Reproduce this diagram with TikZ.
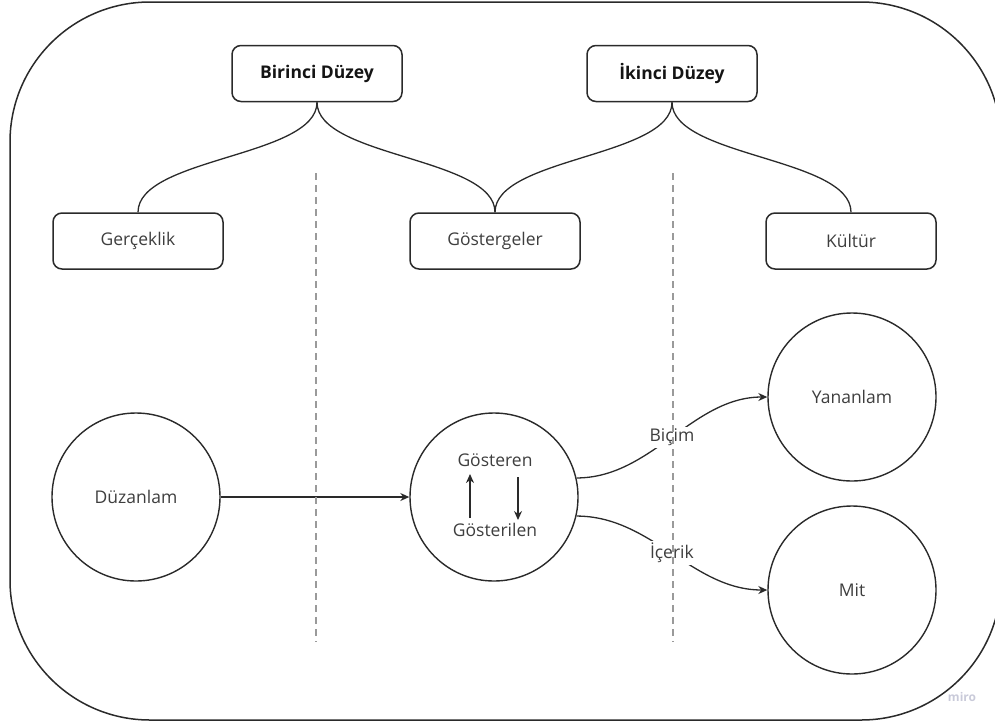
\documentclass[tikz,border=0pt]{standalone}
\usepackage{fontspec}
\setmainfont{Open Sans}
\usetikzlibrary{arrows.meta}
\definecolor{txt}{HTML}{3E3E3E}
\definecolor{line}{HTML}{2A2A2A}
\definecolor{sepc}{HTML}{9A9A9A}
\definecolor{miroc}{HTML}{C9CAD9}
\begin{document}
\begin{tikzpicture}[x=1pt,y=-1pt,
  lbl/.style={text=txt, font=\fontsize{17.5}{20}\selectfont, inner sep=1pt},
  box/.style={draw=line, line width=1.5pt, rounded corners=9pt, minimum width=170pt, minimum height=56pt, lbl},
  topbox/.style={box, text=black!92, font=\fontsize{17.5}{20}\selectfont\bfseries},
  circ/.style={draw=line, line width=1.4pt, circle, minimum size=168pt, lbl},
  conn/.style={draw=line, line width=1.3pt},
  arr/.style={conn, -{Stealth[length=9pt,width=8pt]}},
  sep/.style={draw=sepc, line width=1.2pt, dash pattern=on 7pt off 5pt},
  edgelbl/.style={lbl, fill=white, inner sep=2pt}
]
\useasboundingbox (0,0) rectangle (995,726);
\begin{scope}
\clip (0,0) rectangle (995,726);
\draw[line, line width=1.5pt, rounded corners=140pt] (10,2) rectangle (1001,720);
\end{scope}

% top level boxes
\node[topbox] (b1) at (317,73.5) {Birinci Düzey};
\node[topbox] (b2) at (672,73.5) {İkinci Düzey};

% second row
\node[box] (ger) at (138,241) {Gerçeklik};
\node[box] (gos) at (495,241) {Göstergeler};
\node[box] (kul) at (851,241) {Kültür};

% braces
\draw[conn] (b1.south) .. controls +(0,55) and +(0,-55) .. (ger.north);
\draw[conn] (b1.south) .. controls +(0,55) and +(0,-55) .. (gos.north);
\draw[conn] (b2.south) .. controls +(0,55) and +(0,-55) .. (gos.north);
\draw[conn] (b2.south) .. controls +(0,55) and +(0,-55) .. (kul.north);

% circles
\node[circ] (duz) at (136,497) {Düzanlam};
\node[circ] (gc) at (494,497) {};
\node[circ] (yan) at (852,397) {Yananlam};
\node[circ] (mit) at (852,590) {Mit};

\node[lbl] (gren) at (495,460) {Gösteren};
\node[lbl] (glen) at (495,530) {Gösterilen};

\coordinate (u1) at (470,518);
\coordinate (u2) at (470,474);
\coordinate (d1) at (518,477);
\coordinate (d2) at (518,520);
\draw[conn, -{Stealth[length=9pt,width=8pt]}] (u1) -- (u2);
\draw[conn, -{Stealth[length=9pt,width=8pt]}] (d1) -- (d2);

% connectors
\draw[arr] (duz.east) -- (gc.west);
\draw[arr] (gc.13) .. controls +(75,0) and +(-75,0) .. node[edgelbl, pos=0.5] {Biçim} (yan.west);
\draw[arr] (gc.-13) .. controls +(75,0) and +(-75,0) .. node[edgelbl, pos=0.5] {İçerik} (mit.west);

% separators
\coordinate (s1a) at (316,173);
\coordinate (s1b) at (316,642);
\coordinate (s2a) at (673,173);
\coordinate (s2b) at (673,642);
\draw[sep] (s1a) -- (s1b);
\draw[sep] (s2a) -- (s2b);

% watermark
\node[text=miroc, font=\fontsize{12}{14}\selectfont\bfseries, inner sep=0pt] (miro) at (962,697) {miro};
\end{tikzpicture}
\end{document}
